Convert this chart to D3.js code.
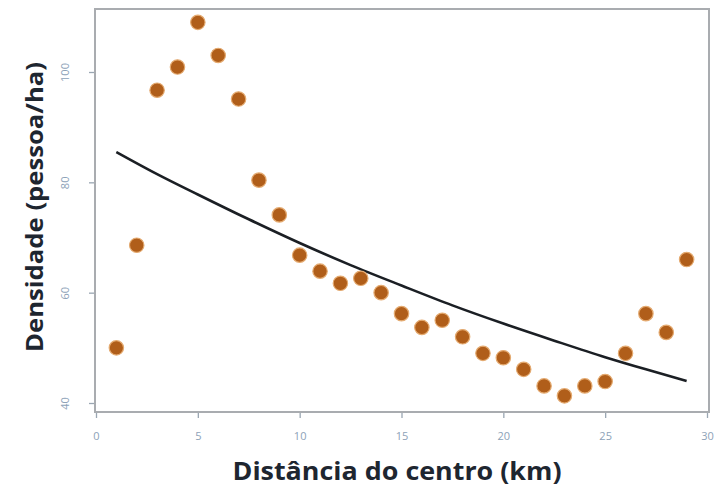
<!DOCTYPE html>
<html><head><meta charset="utf-8">
<script src="https://cdn.jsdelivr.net/npm/d3@7"></script>
<style>body{margin:0;background:#fff}svg{display:block}</style>
</head><body><svg id="c" width="722" height="493"></svg>
<script>
const distances = [1,2,3,4,5,6,7,8,9,10,11,12,13,14,15,16,17,18,19,20,21,22,23,24,25,26,27,28,29];
const densities = [50.0,68.6,96.7,100.9,109.0,103.0,95.1,80.4,74.1,66.8,63.9,61.7,62.6,60.0,56.2,53.7,55.0,52.0,49.0,48.2,46.1,43.1,41.3,43.1,43.9,49.0,56.2,52.8,66.0];
const fitX = [1,3,5,7.5,10,12.5,15,17.5,20,22.5,25,27,29];
const fitY = [85.5,81.5,77.8,73.3,69.0,65.0,61.3,57.7,54.4,51.3,48.3,46.1,44.0];
const xTicks = [0,5,10,15,20,25,30];
const yTicks = [40,60,80,100];
const xTitle = "Distância do centro (km)";
const yTitle = "Densidade (pessoa/ha)";

const svg = d3.select("#c");
const L=96, R=707, T=9, B=412;
const x = d3.scaleLinear().domain([0,30]).range([L,R]);
const y = d3.scaleLinear().domain([40,100]).range([403,72]);

// frame
svg.append("rect").attr("x",95).attr("y",T).attr("width",709-95).attr("height",B-T)
  .attr("fill","none").attr("stroke","#a9acb0").attr("stroke-width",2);

// axes
const tickColor="#9aa6b2", labColor="#8da2b8";
const gx = svg.append("g").attr("transform",`translate(0,${B+1})`)
  .call(d3.axisBottom(x).tickValues(xTicks).tickSize(5).tickPadding(14));
gx.select(".domain").remove();
gx.selectAll("line").attr("stroke",tickColor).attr("stroke-width",1.3);
gx.selectAll("text").attr("fill",labColor).attr("font-family","Open Sans, sans-serif").attr("font-size",11);

const gy = svg.append("g").attr("transform",`translate(${95-1},0)`)
  .call(d3.axisLeft(y).tickValues(yTicks).tickSize(5).tickPadding(0));
gy.select(".domain").remove();
gy.selectAll("line").attr("stroke",tickColor).attr("stroke-width",1.3);
gy.selectAll("text").attr("fill",labColor).attr("font-family","Open Sans, sans-serif").attr("font-size",11)
  .attr("text-anchor","middle").attr("dy",0).attr("x",0)
  .attr("transform","translate(-28,0) rotate(-90)").attr("dominant-baseline","middle");

// fitted curve
const line = d3.line().x((d,i)=>x(fitX[i])).y(d=>y(d)).curve(d3.curveMonotoneX);
svg.append("path").datum(fitY).attr("d",line).attr("fill","none")
  .attr("stroke","#1b1f24").attr("stroke-width",2.6);

// points
svg.append("g").selectAll("circle").data(densities).join("circle")
  .attr("cx",(d,i)=>x(distances[i])).attr("cy",d=>y(d)).attr("r",7.2)
  .attr("fill","#b05e1a").attr("stroke","#e4aa70").attr("stroke-width",1.2);

// titles
svg.append("text").attr("x",397).attr("y",480).attr("text-anchor","middle")
  .attr("font-family","Open Sans, sans-serif").attr("font-weight","bold").attr("font-size",25)
  .attr("textLength",329).attr("lengthAdjust","spacingAndGlyphs")
  .attr("fill","#1e2630").text(xTitle);
svg.append("text").attr("transform","translate(43,207) rotate(-90)").attr("text-anchor","middle")
  .attr("font-family","Open Sans, sans-serif").attr("font-weight","bold").attr("font-size",24)
  .attr("textLength",290).attr("lengthAdjust","spacingAndGlyphs")
  .attr("fill","#1e2630").text(yTitle);
</script></body></html>
